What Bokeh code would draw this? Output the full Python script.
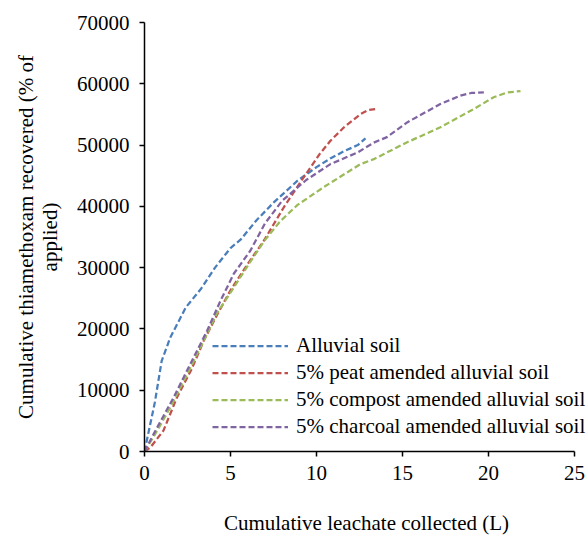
from bokeh.plotting import figure
from bokeh.models import FixedTicker, Legend, LegendItem, Range1d
from bokeh.embed import file_html
from bokeh.resources import INLINE

# Data
alluvial_x = [0, 0.6, 1.0, 1.5, 2.4, 3.3, 4.1, 5.0, 5.6, 6.5, 7.5, 8.9, 10.0, 10.8, 11.6, 12.4, 12.85]
alluvial_y = [0, 8000, 14800, 18600, 23500, 26600, 30000, 33200, 34600, 37700, 40600, 44200, 46400, 47800, 49000, 50000, 51100]

peat_x = [0, 0.35, 1.1, 1.9, 2.7, 3.45, 4.2, 5.0, 6.0, 6.94, 8.1, 9.26, 10.2, 10.81, 11.6, 12.56, 13.0, 13.5]
peat_y = [0, 700, 3400, 8900, 13200, 18100, 22200, 26300, 30600, 34400, 39850, 44750, 48600, 50700, 52900, 55060, 55700, 55900]

compost_x = [0, 0.74, 1.5, 2.5, 3.45, 4.2, 5.2, 6.16, 7.0, 7.9, 8.88, 10.4, 12.56, 13.33, 15.27, 17.2, 19.15, 20.3, 21.1, 21.86]
compost_y = [0, 3400, 7200, 12700, 18100, 22500, 26800, 31000, 34500, 37600, 40200, 43100, 46900, 47700, 50460, 52900, 55900, 57800, 58600, 58800]

charcoal_x = [0, 0.54, 1.7, 2.67, 3.64, 4.42, 5.19, 6.16, 7.0, 8.0, 9.4, 10.81, 12.4, 13.33, 14.1, 15.27, 17.2, 18.37, 19.0, 19.73]
charcoal_y = [0, 2900, 8860, 14300, 19700, 24600, 29000, 32800, 37200, 40900, 44300, 46900, 48800, 50400, 51300, 53700, 56700, 58070, 58500, 58600]

series_names = ["Alluvial soil", "5% peat amended alluvial soil",
                "5% compost amended alluvial soil", "5% charcoal amended alluvial soil"]
series_colors = ["#4A7EBB", "#C0504D", "#9BBB59", "#8064A2"]

x_ticks = [0, 5, 10, 15, 20, 25]
y_ticks = [0, 10000, 20000, 30000, 40000, 50000, 60000, 70000]
x_title = "Cumulative leachate collected (L)"
y_title = "Cumulative thiamethoxam recovered (% of\napplied)"

FONT = "Liberation Serif"
FS = "21px"

# frame reaches the right edge of the page; the x axis line stops at 25
p = figure(width=588, height=539, output_backend="svg", toolbar_location=None,
           x_range=Range1d(0, 25.814), y_range=Range1d(0, 70000),
           min_border_left=144, min_border_right=0, min_border_top=22, min_border_bottom=88)
p.outline_line_color = None
p.xgrid.visible = False
p.ygrid.visible = False
p.background_fill_color = "white"
p.border_fill_color = "white"

renderers = []
for xs, ys, c in zip([alluvial_x, peat_x, compost_x, charcoal_x],
                     [alluvial_y, peat_y, compost_y, charcoal_y], series_colors):
    r = p.line(xs, ys, line_color=c, line_width=2.25, line_dash="6 3")
    renderers.append(r)

for ax in (p.xaxis[0], p.yaxis[0]):
    ax.axis_line_color = "black"
    ax.axis_line_width = 1.5
    ax.major_tick_line_color = "black"
    ax.major_tick_line_width = 1.5
    ax.major_tick_in = 0
    ax.major_tick_out = 5
    ax.minor_tick_line_color = None
    ax.major_label_text_font = FONT
    ax.major_label_text_font_size = FS
    ax.major_label_text_color = "black"
    ax.axis_label_text_font = FONT
    ax.axis_label_text_font_size = FS
    ax.axis_label_text_font_style = "normal"
    ax.axis_label_text_color = "black"

p.xaxis.bounds = (0, 25)
p.xaxis.ticker = FixedTicker(ticks=x_ticks)
p.yaxis.ticker = FixedTicker(ticks=y_ticks)
p.xaxis.major_label_standoff = 9
p.yaxis.major_label_standoff = 10
p.xaxis.axis_label = x_title
p.xaxis.axis_label_standoff = 28
p.yaxis.axis_label = y_title
p.yaxis.axis_label_standoff = 12
p.yaxis.axis_label_text_line_height = 1.0

legend = Legend(items=[LegendItem(label=n, renderers=[r]) for n, r in zip(series_names, renderers)],
                location=(68, 11), padding=0, margin=0, spacing=0,
                glyph_width=76, glyph_height=27, label_height=27, label_standoff=8,
                label_text_font=FONT, label_text_font_size=FS, label_text_color="black",
                border_line_alpha=0, background_fill_alpha=0)
p.add_layout(legend, "center")

open("out.html", "w").write(file_html(p, INLINE))
